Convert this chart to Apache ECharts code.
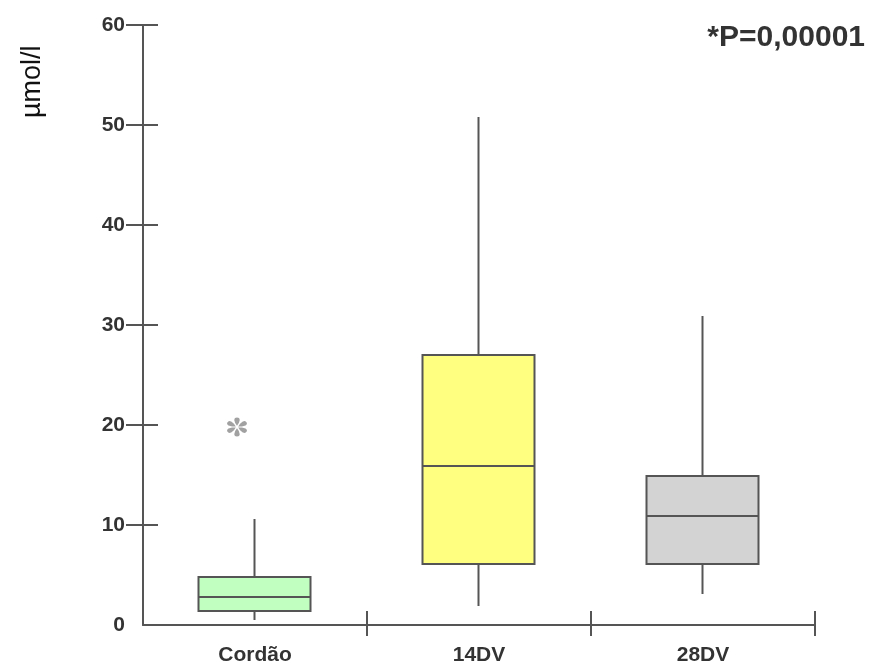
<!DOCTYPE html>
<html>
<head>
<meta charset="utf-8">
<script src="https://cdn.jsdelivr.net/npm/echarts@6/dist/echarts.min.js"></script>
<style>
  html, body { margin: 0; padding: 0; background: #ffffff; }
  #chart { width: 872px; height: 667px; }
</style>
</head>
<body>
<div id="chart"></div>
<script>
// ---- data ----
const categories = ['Cordão', '14DV', '28DV'];
const whiskerLow = [0.5, 1.9, 3.1];
const q1 = [1.4, 6.1, 6.1];
const median = [2.8, 15.9, 10.9];
const q3 = [4.8, 27.0, 14.9];
const whiskerHigh = [10.6, 50.8, 30.9];
const outlierCategory = ['Cordão'];
const outlierValue = [19.8];
const yTickValues = [0, 10, 20, 30, 40, 50, 60];
const yTickMarks = [10, 20, 30, 40, 50, 60];
const unitLabel = 'µmol/l';
const pLabel = '*P=0,00001';

// ---- styles ----
const boxColors = ['#c0ffc0', '#ffff80', '#d3d3d3'];
const edge = '#555555';
const labelFont = "'Liberation Sans', Arial, sans-serif";

// asterisk symbol (six teardrop petals)
function asteriskPath() {
  const pts = [[6,0],[20,-8],[36,-12],[45,-9],[48,0],[45,9],[36,12],[20,8]];
  let d = '';
  for (let k = 0; k < 6; k++) {
    const a = (Math.PI / 3) * k + Math.PI / 2;
    const c = Math.cos(a), s = Math.sin(a);
    pts.forEach((p, j) => {
      const x = 50 + p[0] * c - p[1] * s;
      const y = 50 - (p[0] * s + p[1] * c);
      d += (j === 0 ? 'M' : 'L') + x.toFixed(2) + ' ' + y.toFixed(2) + ' ';
    });
    d += 'Z ';
  }
  return 'path://' + d;
}

const boxData = categories.map((c, i) => [i, whiskerLow[i], q1[i], median[i], q3[i], whiskerHigh[i]]);
const outlierData = outlierCategory.map((c, i) => [c, outlierValue[i]]);

const chart = echarts.init(document.getElementById('chart'), null, { renderer: 'canvas' });

const axisLabelStyle = {
  fontFamily: labelFont,
  fontWeight: 'bold',
  fontSize: 21,
  color: '#333333'
};

chart.setOption({
  backgroundColor: '#ffffff',
  animation: false,
  grid: { left: 143, right: 57, top: 25, bottom: 42, containLabel: false },
  xAxis: [
    {
      type: 'category',
      data: categories,
      boundaryGap: true,
      position: 'bottom',
      axisLine: { show: true, lineStyle: { color: edge, width: 2 } },
      axisTick: { show: true, length: 11, inside: false, interval: function (idx) { return idx > 0; }, lineStyle: { color: edge, width: 2 } },
      axisLabel: Object.assign({ margin: 20 }, axisLabelStyle),
      splitLine: { show: false }
    },
    {
      type: 'category',
      data: categories,
      boundaryGap: true,
      position: 'bottom',
      axisLine: { show: false },
      axisTick: { show: true, length: 14, inside: true, interval: function (idx) { return idx > 0; }, lineStyle: { color: edge, width: 2 } },
      axisLabel: { show: false },
      splitLine: { show: false }
    }
  ],
  yAxis: [
    {
      type: 'value',
      min: 0, max: 60, interval: 10,
      position: 'left',
      axisLine: { show: true, lineStyle: { color: edge, width: 2 } },
      axisTick: { show: true, length: 17, inside: false, customValues: yTickMarks, lineStyle: { color: edge, width: 2 } },
      axisLabel: Object.assign({ margin: 18, customValues: yTickValues }, axisLabelStyle),
      splitLine: { show: false }
    },
    {
      type: 'value',
      min: 0, max: 60, interval: 10,
      position: 'left',
      axisLine: { show: false },
      axisTick: { show: true, length: 15, inside: true, customValues: yTickMarks, lineStyle: { color: edge, width: 2 } },
      axisLabel: { show: false },
      splitLine: { show: false }
    }
  ],
  series: [
    {
      type: 'custom',
      xAxisIndex: 0,
      yAxisIndex: 0,
      data: boxData,
      encode: { x: 0, y: [1, 2, 3, 4, 5] },
      renderItem: function (params, api) {
        const idx = params.dataIndex;
        const i = api.value(0);
        const lo = api.coord([i, api.value(1)]);
        const b1 = api.coord([i, api.value(2)]);
        const md = api.coord([i, api.value(3)]);
        const b3 = api.coord([i, api.value(4)]);
        const hi = api.coord([i, api.value(5)]);
        const w = api.size([1, 0])[0] * 0.5;
        const x = Math.round(lo[0]) - 0.5;
        const ls = { stroke: edge, lineWidth: 2 };
        return {
          type: 'group',
          children: [
            { type: 'line', shape: { x1: x, y1: hi[1], x2: x, y2: b3[1] }, style: ls },
            { type: 'line', shape: { x1: x, y1: b1[1], x2: x, y2: lo[1] }, style: ls },
            { type: 'rect', shape: { x: x - w / 2, y: b3[1], width: w, height: b1[1] - b3[1] },
              style: { fill: boxColors[idx], stroke: edge, lineWidth: 2 } },
            { type: 'line', shape: { x1: x - w / 2, y1: md[1], x2: x + w / 2, y2: md[1] }, style: ls }
          ]
        };
      }
    },
    {
      type: 'scatter',
      xAxisIndex: 0,
      yAxisIndex: 0,
      data: outlierData,
      symbol: asteriskPath(),
      symbolSize: [20, 19],
      symbolOffset: [-18, 0],
      itemStyle: { color: '#8a8a8a' }
    }
  ],
  graphic: [
    {
      type: 'text',
      right: 7,
      top: 23,
      style: {
        text: pLabel,
        font: "bold 30px 'Liberation Sans', Arial, sans-serif",
        fill: '#333333'
      }
    },
    {
      type: 'text',
      x: 19,
      y: 118,
      rotation: Math.PI / 2,
      style: {
        text: unitLabel,
        font: "27px 'Liberation Sans', Arial, sans-serif",
        fill: '#111111',
        textAlign: 'left',
        textVerticalAlign: 'top'
      }
    }
  ]
});
</script>
</body>
</html>
